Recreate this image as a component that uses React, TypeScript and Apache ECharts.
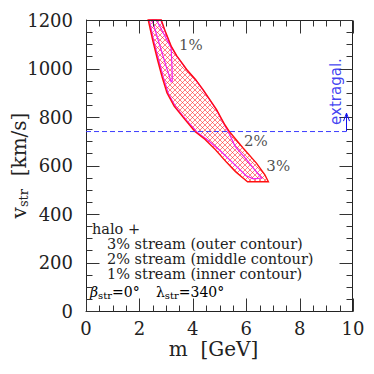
import React, { useEffect, useRef } from "react";
import * as echarts from "echarts";

// ---- data (m in GeV, v_str in km/s) ----
const outerContour: number[][] = [
  [2.33, 1200], [2.82, 1200], [2.98, 1150], [3.2, 1090], [3.4, 1052], [3.6, 1022],
  [3.77, 996], [4.1, 955], [4.39, 912], [4.89, 830], [5.2, 768], [5.39, 737],
  [5.89, 671], [6.39, 609], [6.7, 561], [6.83, 533], [6.05, 533], [5.6, 574],
  [5.25, 615], [4.85, 665], [4.45, 708], [4.08, 740], [3.7, 790], [3.3, 845],
  [3.03, 900], [2.85, 965], [2.68, 1035], [2.5, 1115],
];
const middleContour: number[][] = [
  [2.37, 1200], [2.8, 1200], [2.97, 1150], [3.19, 1090], [3.39, 1052], [3.59, 1022],
  [3.76, 996], [4.09, 955], [4.38, 912], [4.88, 830], [5.18, 768], [5.34, 737],
  [5.58, 680], [6.02, 623], [6.33, 581], [6.58, 548], [6.27, 545], [6.0, 558],
  [5.52, 609], [5.02, 662], [4.58, 703], [4.17, 736], [3.77, 786], [3.37, 840],
  [3.09, 895], [2.9, 962], [2.73, 1033], [2.54, 1113],
];
const innerContour: number[][] = [
  [2.48, 1200], [2.64, 1200], [2.9, 1145], [3.19, 1085], [3.22, 1010], [3.23, 948],
  [3.19, 945], [3.0, 1010], [2.75, 1100],
];
const pctLabels = ["1%", "2%", "3%"];
const pctLabelM = [3.93, 6.36, 7.2];
const pctLabelV = [1098, 702, 599];
const extragalV = 740;
const extragalEndM = 9.74;
const extragalArrowTopV = 816;
const extragalTextPos = [9.36, 905];
const xTicks = { min: 0, max: 10, interval: 2 };
const yTicks = { min: 0, max: 1200, interval: 200 };
const minorPerMajor = 4;
const legendLines = [
  "halo +",
  "3% stream (outer contour)",
  "2% stream (middle contour)",
  "1% stream (inner contour)",
];

const SERIF = '"DejaVu Serif", serif';
const TXT = "#222";

function tickValues(t: { min: number; max: number; interval: number }) {
  const out: { v: number; major: boolean }[] = [];
  const step = t.interval / minorPerMajor;
  const n = Math.round((t.max - t.min) / step);
  for (let i = 0; i <= n; i++) out.push({ v: t.min + i * step, major: i % minorPerMajor === 0 });
  return out;
}

export default function App() {
  const ref = useRef<HTMLDivElement>(null);
  useEffect(() => {
    if (!ref.current) return;
    const chart = echarts.init(ref.current, null, { renderer: "svg" });

    const tile = document.createElement("canvas");
    tile.width = 5;
    tile.height = 5;
    const ctx = tile.getContext("2d")!;
    ctx.strokeStyle = "rgba(255,30,30,0.7)";
    ctx.lineWidth = 0.8;
    ctx.beginPath();
    ctx.moveTo(-1, -1);
    ctx.lineTo(6, 6);
    ctx.moveTo(6, -1);
    ctx.lineTo(-1, 6);
    ctx.stroke();
    const hatch: any = { image: tile, repeat: "repeat", imageWidth: 5, imageHeight: 5 };

    const plain = (v: number) => String(v);
    const subTok = { fontSize: 10, fontFamily: SERIF, color: TXT, padding: [7, 0, 0, 0] };
    const mainTok = { fontSize: 14, fontFamily: SERIF, color: TXT };
    const xtv = tickValues(xTicks);
    const ytv = tickValues(yTicks);

    const renderAll = (params: any, api: any) => {
      if (params.dataIndex !== 0) return null;
      const P = (p: number[]) => api.coord(p);
      const children: any[] = [];
      children.push({ type: "polygon", shape: { points: outerContour.map(P) }, style: { fill: hatch, stroke: "none" } });
      children.push({ type: "polygon", shape: { points: middleContour.map(P) }, style: { fill: "none", stroke: "#f020f0", lineWidth: 1.2 } });
      children.push({ type: "polygon", shape: { points: innerContour.map(P) }, style: { fill: "none", stroke: "#f020f0", lineWidth: 1.2 } });
      children.push({ type: "polygon", shape: { points: outerContour.map(P) }, style: { fill: "none", stroke: "#ff1010", lineWidth: 1.4 } });

      const lo = P([xTicks.min, yTicks.min]);
      const hi = P([xTicks.max, yTicks.max]);
      const L = Math.round(lo[0]) + 0.5;
      const B = Math.round(lo[1]) + 0.5;
      const R = Math.round(hi[0]) - 0.5;
      const T = Math.round(hi[1]) + 0.5;
      const frame = { stroke: "#222", lineWidth: 1 };
      children.push({ type: "line", shape: { x1: L, y1: T, x2: R, y2: T }, style: frame });
      children.push({ type: "line", shape: { x1: R, y1: T, x2: R, y2: B }, style: frame });
      const tk = { stroke: "#333", lineWidth: 1 };
      xtv.forEach(({ v, major }) => {
        const x = Math.round(P([v, yTicks.min])[0]) + 0.5;
        const len = major ? 13 : 6;
        children.push({ type: "line", shape: { x1: x, y1: B, x2: x, y2: B - len }, style: tk });
        children.push({ type: "line", shape: { x1: x, y1: T, x2: x, y2: T + len }, style: tk });
      });
      ytv.forEach(({ v, major }) => {
        const y = Math.round(P([xTicks.min, v])[1]) + 0.5;
        const len = major ? 13 : 6;
        children.push({ type: "line", shape: { x1: L, y1: y, x2: L + len, y2: y }, style: tk });
        children.push({ type: "line", shape: { x1: R, y1: y, x2: R - len, y2: y }, style: tk });
      });

      const a = P([extragalEndM, extragalV]);
      const b = P([extragalEndM, extragalArrowTopV]);
      const ax = Math.round(a[0]) + 0.5;
      const arrow = { stroke: "#1010ee", lineWidth: 1, fill: "none" };
      children.push({ type: "line", shape: { x1: ax, y1: a[1], x2: ax, y2: b[1] }, style: arrow });
      children.push({
        type: "polyline",
        shape: { points: [[ax - 3, b[1] + 8], [ax, b[1]], [ax + 3, b[1] + 8]] },
        style: arrow,
      });
      return { type: "group", children };
    };

    chart.setOption({
      animation: false,
      grid: { left: 86, right: 21, top: 20, bottom: 63, outerBoundsMode: "none" },
      xAxis: {
        type: "value",
        ...xTicks,
        position: "bottom",
        axisLine: { show: true, onZero: false, lineStyle: { color: "#222", width: 1 } },
        axisTick: { show: false },
        minorTick: { show: false },
        splitLine: { show: false },
        name: "m  [GeV]",
        nameLocation: "middle",
        nameGap: 28,
        nameMoveOverlap: false,
        nameTextStyle: { fontSize: 20, fontFamily: SERIF, color: TXT, padding: [0, 12, 0, 0] },
        axisLabel: { fontSize: 18, fontFamily: SERIF, color: TXT, margin: 8, formatter: plain },
      },
      yAxis: {
        type: "value",
        ...yTicks,
        position: "left",
        axisLine: { show: true, onZero: false, lineStyle: { color: "#222", width: 1 } },
        axisTick: { show: false },
        minorTick: { show: false },
        splitLine: { show: false },
        name: "{a|v}{s|str}{a|  [km/s]}",
        nameLocation: "middle",
        nameGap: 56,
        nameMoveOverlap: false,
        nameTextStyle: {
          rich: {
            a: { fontSize: 20, fontFamily: SERIF, color: TXT },
            s: { fontSize: 13, fontFamily: SERIF, color: TXT, padding: [9, 0, 0, 0] },
          },
        },
        axisLabel: { fontSize: 18, fontFamily: SERIF, color: TXT, margin: 13, formatter: plain },
      },
      series: [
        {
          type: "custom",
          clip: false,
          silent: true,
          data: outerContour,
          renderItem: renderAll,
          z: 2,
        },
        {
          type: "line",
          silent: true,
          symbol: "none",
          data: [
            [xTicks.min, extragalV],
            [extragalEndM, extragalV],
          ],
          itemStyle: { color: "#3c3cff" },
          lineStyle: { color: "#3c3cff", width: 1, type: [5, 3] },
          z: 5,
        },
        {
          type: "scatter",
          silent: true,
          symbolSize: 0,
          data: pctLabels.map((t, i) => ({ name: t, value: [pctLabelM[i], pctLabelV[i]] })),
          label: {
            show: true,
            position: "inside",
            formatter: (p: any) => p.name,
            fontSize: 15,
            fontFamily: SERIF,
            color: TXT,
          },
          z: 6,
        },
        {
          type: "scatter",
          silent: true,
          symbolSize: 0,
          data: [{ name: "extragal.", value: extragalTextPos }],
          label: {
            show: true,
            position: "inside",
            rotate: 90,
            formatter: (p: any) => p.name,
            fontSize: 15,
            fontFamily: '"DejaVu Sans", sans-serif',
            color: "#1010ee",
          },
          z: 6,
        },
      ],
      graphic: [
        ...legendLines.map((t, i) => ({
          type: "text",
          x: i === 0 ? 92 : 107,
          y: 229 + 15 * i,
          silent: true,
          style: {
            text: t,
            fontSize: 14.5,
            lineHeight: 14,
            fontFamily: SERIF,
            fill: TXT,
            verticalAlign: "middle",
          },
        })),
        {
          type: "text",
          x: 90,
          y: 292,
          silent: true,
          style: {
            text: "{g|β}{s|str}{t|=0°}",
            verticalAlign: "middle",
            rich: { g: { ...mainTok, fontStyle: "italic" }, s: subTok, t: mainTok },
          },
        },
        {
          type: "text",
          x: 156,
          y: 292,
          silent: true,
          style: {
            text: "{g|λ}{s|str}{t|=340°}",
            verticalAlign: "middle",
            rich: { g: mainTok, s: subTok, t: mainTok },
          },
        },
      ],
    });
    return () => chart.dispose();
  }, []);
  return <div ref={ref} style={{ width: 374, height: 374, margin: -8 }} />;
}
